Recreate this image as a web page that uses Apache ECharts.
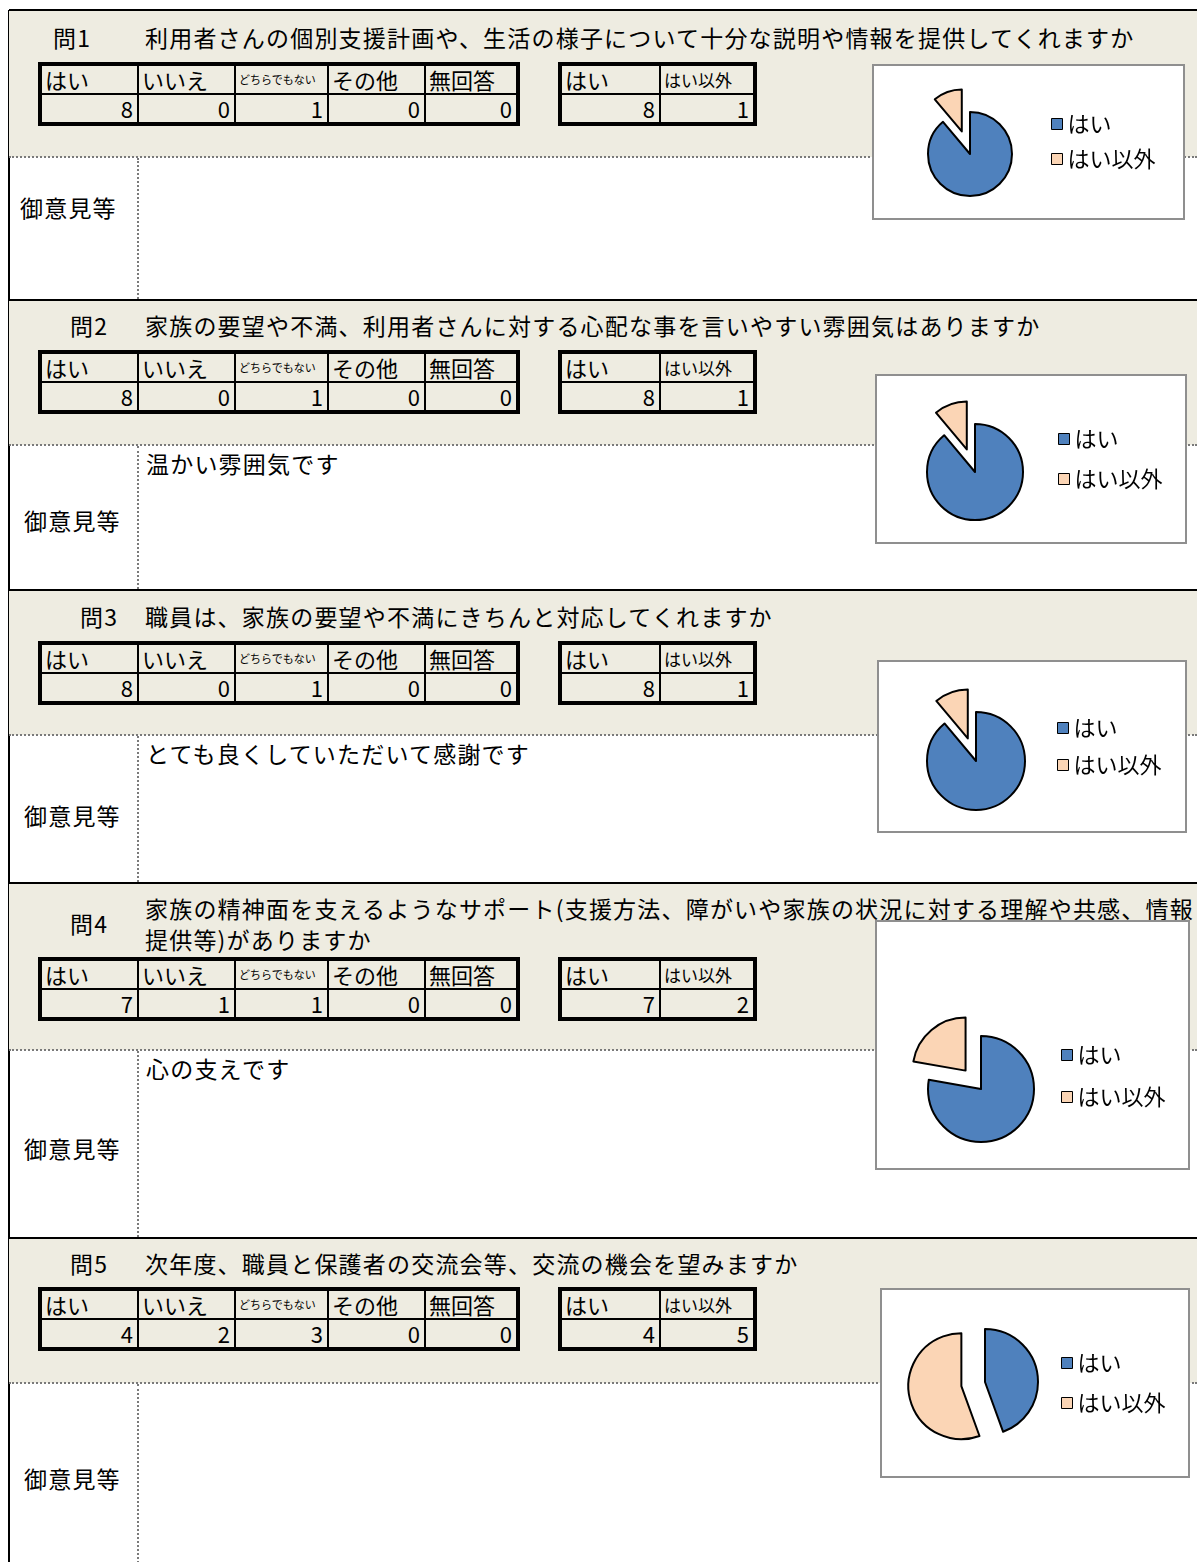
<!DOCTYPE html>
<html>
<head>
<meta charset="utf-8">
<script src="https://cdn.jsdelivr.net/npm/echarts@6/dist/echarts.min.js"></script>
<style>
  html, body { margin: 0; padding: 0; background: #fff; }
  body { font-family: 'Noto Sans CJK JP', sans-serif; color: #000; }
  #page { position: relative; width: 1197px; height: 1562px; overflow: hidden; }
  .abs { position: absolute; }
  .band { position: absolute; left: 9px; right: 0; background: #EEECE1; }
  .hline { position: absolute; left: 9px; right: 0; height: 0; border-top: 2px solid #000; }
  .dotline { position: absolute; left: 9px; right: 0; height: 0; border-top: 2px dotted #7a7a7a; }
  .vdot { position: absolute; width: 0; border-left: 2px dotted #7a7a7a; }
  .txt { position: absolute; font-size: 23px; line-height: 30px; white-space: nowrap; letter-spacing: 1.2px; }
  table.grid { position: absolute; border-collapse: collapse; table-layout: fixed; border: 4px solid #000; }
  table.grid td { border: 2px solid #000; padding: 0 4px; height: 27px; font-size: 22px; line-height: 27px; white-space: nowrap; }
  table.grid tr.h td { text-align: left; padding-left: 3px; }
  table.grid tr.v td { text-align: right; }
  td.tiny { font-size: 11px !important; }
  td.small { font-size: 17px !important; }
  .box { position: absolute; background: #fff; border: 2px solid #8f8f8f; box-sizing: border-box; }
</style>
</head>
<body>
<div id="page"></div>
<script>
// 設問
const questionNos = ['問1', '問2', '問3', '問4', '問5']
const questionTexts = [
  ['利用者さんの個別支援計画や、生活の様子について十分な説明や情報を提供してくれますか'],
  ['家族の要望や不満、利用者さんに対する心配な事を言いやすい雰囲気はありますか'],
  ['職員は、家族の要望や不満にきちんと対応してくれますか'],
  ['家族の精神面を支えるようなサポート(支援方法、障がいや家族の状況に対する理解や共感、情報', '提供等)がありますか'],
  ['次年度、職員と保護者の交流会等、交流の機会を望みますか']
]
// 回答の集計
const answerHeaders = ['はい', 'いいえ', 'どちらでもない', 'その他', '無回答']
const answerCounts = [
  [8, 0, 1, 0, 0],
  [8, 0, 1, 0, 0],
  [8, 0, 1, 0, 0],
  [7, 1, 1, 0, 0],
  [4, 2, 3, 0, 0]
]
const summaryHeaders = ['はい', 'はい以外']
const yesCounts = [8, 8, 8, 7, 4]
const otherCounts = [1, 1, 1, 2, 5]
const comments = ['', '温かい雰囲気です', 'とても良くしていただいて感謝です', '心の支えです', '']
const commentLabel = '御意見等'

// レイアウト
const sectionTop = [10, 300, 590, 883, 1238]
const dottedY = [157, 445, 735, 1050, 1383]
const sectionBottom = [300, 590, 883, 1238, 1600]
const noX = [53, 70, 80, 70, 70]
const titleY = [22, 310, 601, 893, 1248]
const tableTop = [62, 350, 641, 957, 1287]
const labelX = [20, 24, 24, 24, 24]
const labelY = [207, 520, 815, 1148, 1478]
const boxes = [
  { x: 872, y: 64, w: 313, h: 156, cx: 96, cy: 88, r: 42, lx: 172, ly: 42, gap: 13 },
  { x: 875, y: 374, w: 312, h: 170, cx: 98, cy: 96, r: 48, lx: 176, ly: 47, gap: 18 },
  { x: 877, y: 660, w: 310, h: 173, cx: 97, cy: 99, r: 49, lx: 173, ly: 50, gap: 15 },
  { x: 875, y: 920, w: 315, h: 250, cx: 104, cy: 167, r: 53, lx: 179, ly: 117, gap: 20 },
  { x: 880, y: 1288, w: 310, h: 190, cx: 103, cy: 92, r: 53, lx: 174, ly: 57, gap: 18 }
]
const colWidths = [98, 97, 93, 97, 93]
const sumWidths = [100, 95]

const page = document.getElementById('page')
function add(cls, style, html) {
  const d = document.createElement('div')
  d.className = cls
  Object.assign(d.style, style)
  if (html !== undefined) d.textContent = html
  page.appendChild(d)
  return d
}

function makeTable(x, y, widths, headers, values, cellClass) {
  const t = document.createElement('table')
  t.className = 'grid'
  t.style.left = x + 'px'
  t.style.top = y + 'px'
  const cg = document.createElement('colgroup')
  widths.forEach(w => {
    const c = document.createElement('col')
    c.style.width = w + 'px'
    cg.appendChild(c)
  })
  t.appendChild(cg)
  const hr = document.createElement('tr')
  hr.className = 'h'
  headers.forEach((h, i) => {
    const td = document.createElement('td')
    td.textContent = h
    if (cellClass[i]) td.className = cellClass[i]
    hr.appendChild(td)
  })
  const vr = document.createElement('tr')
  vr.className = 'v'
  values.forEach(v => {
    const td = document.createElement('td')
    td.textContent = v
    vr.appendChild(td)
  })
  t.appendChild(hr)
  t.appendChild(vr)
  page.appendChild(t)
}

// 外枠
add('abs', { left: '8px', top: '10px', width: '2px', height: '1600px', background: '#000' })

questionNos.forEach((no, i) => {
  add('band', { top: sectionTop[i] + 'px', height: (dottedY[i] - sectionTop[i]) + 'px' })
  add('hline', { top: (sectionTop[i] - 1) + 'px' })
  add('dotline', { top: (dottedY[i] - 1) + 'px' })
  add('vdot', { left: '137px', top: (dottedY[i] + 1) + 'px', height: (sectionBottom[i] - dottedY[i] - 2) + 'px' })

  const lines = questionTexts[i]
  const noTop = lines.length > 1 ? titleY[i] + 15 : titleY[i]
  add('txt', { left: noX[i] + 'px', top: noTop + 'px' }, no)
  lines.forEach((ln, k) => {
    add('txt', { left: '145px', top: (titleY[i] + k * 31) + 'px' }, ln)
  })

  makeTable(38, tableTop[i], colWidths, answerHeaders, answerCounts[i], ['', '', 'tiny', '', ''])
  makeTable(558, tableTop[i], sumWidths, summaryHeaders, [yesCounts[i], otherCounts[i]], ['', 'small'])

  add('txt', { left: labelX[i] + 'px', top: (labelY[i] - 15) + 'px' }, commentLabel)
  if (comments[i]) {
    add('txt', { left: '146px', top: (dottedY[i] + 3) + 'px' }, comments[i])
  }
})

// 円グラフ
boxes.forEach((b, i) => {
  const el = add('box', { left: b.x + 'px', top: b.y + 'px', width: b.w + 'px', height: b.h + 'px' })
  const inner = document.createElement('div')
  inner.style.width = (b.w - 4) + 'px'
  inner.style.height = (b.h - 4) + 'px'
  el.appendChild(inner)
  const chart = echarts.init(inner)
  chart.setOption({
    animation: false,
    backgroundColor: '#fff',
    legend: {
      orient: 'vertical',
      left: b.lx,
      top: b.ly,
      icon: 'rect',
      itemWidth: 11,
      itemHeight: 11,
      itemGap: b.gap,
      selectedMode: false,
      itemStyle: { borderColor: '#000', borderWidth: 1 },
      textStyle: { fontSize: 22, color: '#000', fontFamily: 'Noto Sans CJK JP' },
      data: summaryHeaders
    },
    series: [
      {
        type: 'pie',
        center: [b.cx, b.cy],
        radius: b.r,
        startAngle: 90,
        clockwise: true,
        selectedMode: 'single',
        selectedOffset: 24,
        label: { show: false },
        labelLine: { show: false },
        emphasis: { disabled: true },
        itemStyle: { borderColor: '#000', borderWidth: 2 },
        data: [
          { name: summaryHeaders[0], value: yesCounts[i], itemStyle: { color: '#4F81BD' } },
          { name: summaryHeaders[1], value: otherCounts[i], selected: true, itemStyle: { color: '#FBD5B5' } }
        ]
      }
    ]
  })
})
</script>
</body>
</html>
